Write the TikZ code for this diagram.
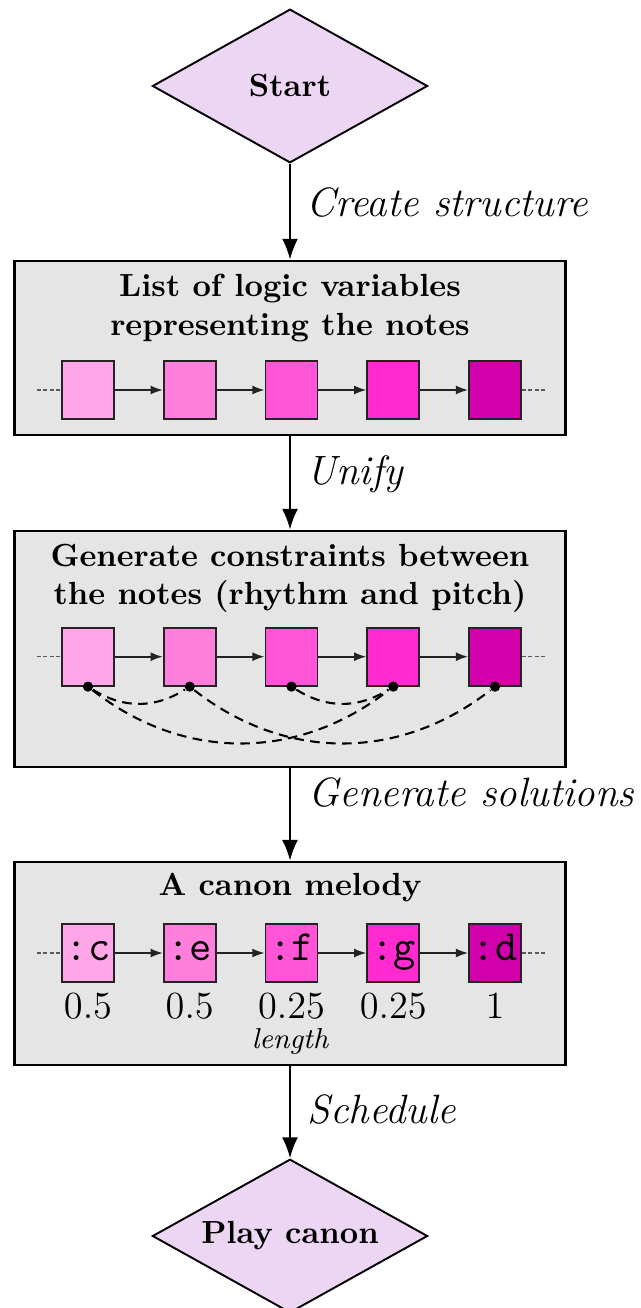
\documentclass[tikz,border=0pt]{standalone}
\usetikzlibrary{shapes.geometric,arrows.meta}

\definecolor{diafill}{RGB}{237,214,243}
\definecolor{boxfill}{RGB}{229,229,229}
\definecolor{noteA}{RGB}{255,166,233}
\definecolor{noteB}{RGB}{255,128,220}
\definecolor{noteC}{RGB}{255,85,214}
\definecolor{noteD}{RGB}{255,43,208}
\definecolor{noteE}{RGB}{210,0,170}
\definecolor{edge}{RGB}{35,35,35}

\tikzset{
  terminal/.style={diamond, aspect=1.8, draw, line width=0.6pt, fill=diafill,
    inner sep=0pt, minimum width=86pt, minimum height=48pt, font=\bfseries},
  stage/.style={rectangle, draw, line width=0.85pt, fill=boxfill,
    minimum width=172.3pt, inner sep=0pt},
  title/.style={font=\bfseries, align=center, inner sep=0pt},
  note/.style={rectangle, draw=edge, line width=0.6pt, minimum width=16.25pt,
    minimum height=18.1pt, inner sep=0pt, text height=6pt, text depth=1.6pt,
    font=\fontsize{13.5}{16}\selectfont\ttfamily},
  link/.style={draw=edge, line width=0.5pt, -{Latex[length=3.8pt,width=2.8pt]}},
  stub/.style={draw=edge!75, line width=0.45pt, dash pattern=on 1.2pt off 0.8pt},
  flow/.style={line width=0.7pt, -{Latex[length=6.5pt,width=5pt]}},
  flowlabel/.style={font=\fontsize{12.8}{15}\selectfont\itshape, anchor=base west, inner sep=0pt},
  tie/.style={line width=0.65pt, dash pattern=on 3pt off 2pt},
  dot/.style={circle, fill, inner sep=0pt, minimum size=3.2pt},
  durlabel/.style={font=\fontsize{12.3}{15}\selectfont, anchor=base, inner sep=0pt},
}

\begin{document}
\begin{tikzpicture}[x=0.3125pt, y=-0.3125pt]
\useasboundingbox (0,0) rectangle (641,1308);

% start
\node[terminal] (start) at (290,86) {Start};

% stage 1: list of variables
\node[stage, minimum height=54.4pt] (list) at (290,348) {};
\node[title] (listT) at (290,308) {List of logic variables\\representing the notes};
\foreach \i/\c in {1/noteA,2/noteB,3/noteC,4/noteD,5/noteE}
  \node[note, fill=\c] (l\i) at ({88+101.75*(\i-1)},390) {};
\foreach \i/\j in {1/2,2/3,3/4,4/5}
  \draw[link] (l\i) -- (l\j);
\coordinate (lL) at (37,390);
\coordinate (lR) at (546,390);
\draw[stub] (lL) -- (l1.west);
\draw[stub] (l5.east) -- (lR);

% stage 2: constraints
\node[stage, minimum height=73.75pt] (cons) at (290,649) {};
\node[title] (consT) at (290,578.5) {Generate constraints between\\the notes (rhythm and pitch)};
\foreach \i/\c in {1/noteA,2/noteB,3/noteC,4/noteD,5/noteE}
  \node[note, fill=\c] (c\i) at ({88+101.75*(\i-1)},656.7) {};
\foreach \i/\j in {1/2,2/3,3/4,4/5}
  \draw[link] (c\i) -- (c\j);
\coordinate (cL) at (37,656.7);
\coordinate (cR) at (546,656.7);
\draw[stub] (cL) -- (c1.west);
\draw[stub] (c5.east) -- (cR);
\foreach \i in {1,...,5}
  \node[dot] (d\i) at (c\i.south) {};
\draw[tie] (d1) to[bend right=32] (d2);
\draw[tie] (d3) to[bend right=32] (d4);
\draw[tie] (d1) to[bend right=38] (d4);
\draw[tie] (d2) to[bend right=38] (d5);

% stage 3: melody
\node[stage, minimum height=63.4pt] (mel) at (290,963.5) {};
\node[title] (melT) at (290,888) {A canon melody};
\foreach \i/\c/\t/\v in {1/noteA/c/0.5,2/noteB/e/0.5,3/noteC/f/0.25,4/noteD/g/0.25,5/noteE/d/1}{
  \node[note, fill=\c] (m\i) at ({88+101.75*(\i-1)},953) {:\t};
  \node[durlabel] (v\i) at ({88+101.75*(\i-1)},1018) {$\v$};
}
\foreach \i/\j in {1/2,2/3,3/4,4/5}
  \draw[link] (m\i) -- (m\j);
\coordinate (mL) at (37,953);
\coordinate (mR) at (546,953);
\draw[stub] (mL) -- (m1.west);
\draw[stub] (m5.east) -- (mR);
\node[font=\small\itshape, anchor=base, inner sep=0pt] (len) at (290,1048) {length};

% end
\node[terminal] (play) at (290,1236) {Play canon};

% flow
\draw[flow] (start) -- (list);
\draw[flow] (list) -- (cons);
\draw[flow] (cons) -- (mel);
\draw[flow] (mel) -- (play);
\node[flowlabel] (f1) at (306,217) {Create structure};
\node[flowlabel] (f2) at (306,485) {Unify};
\node[flowlabel] (f3) at (308,806) {Generate solutions};
\node[flowlabel] (f4) at (307,1123) {Schedule};
\end{tikzpicture}
\end{document}
